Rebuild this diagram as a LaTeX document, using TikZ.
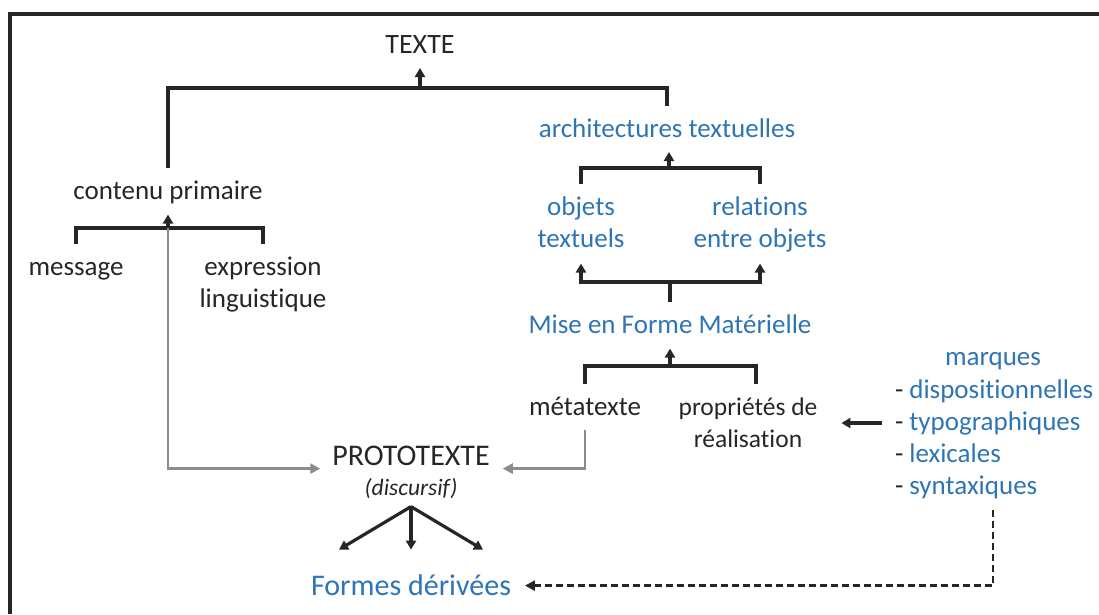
\documentclass[tikz,border=0pt]{standalone}
\usepackage{fontspec}
\setmainfont{Carlito}[Ligatures=NoCommon]
\usetikzlibrary{arrows.meta,calc}
\definecolor{cblue}{RGB}{46,117,182}
\definecolor{cgray}{RGB}{140,140,140}
\definecolor{ctext}{RGB}{38,38,38}
\newcommand{\hst}{\rule[-9.6pt]{0pt}{32pt}}
\begin{document}
\begin{tikzpicture}[x=1pt,y=-1pt,
  lbl/.style={font=\fontsize{27}{32}\selectfont, text=ctext, align=center, inner sep=0pt, outer sep=0pt, execute at begin node=\hst},
  blbl/.style={lbl, text=cblue},
  ln/.style={line width=3.2pt, draw=ctext},
  arr/.style={ln, -{Triangle[width=10pt,length=9pt]}},
  garr/.style={line width=2.8pt, draw=cgray, -{Triangle[width=10pt,length=10pt]}},
  darr/.style={line width=2.6pt, draw=ctext, dash pattern=on 7pt off 4pt, -{Triangle[width=10pt,length=10pt]}},
]
\useasboundingbox (0,0) rectangle (1099,614);
\draw[line width=3.4pt, draw=ctext] (10,614) -- (10,14) -- (1099,14);

% nodes
\node[lbl, anchor=base, font=\fontsize{28}{32}\selectfont] (texte) at (420,53) {TEXTE};
\node[blbl, anchor=base] (arch) at (667,137) {architectures textuelles};
\node[lbl, anchor=base] (cp) at (168,199) {contenu primaire};
\node[blbl, anchor=north] (obj) at (581,192.6) {\hst objets\\textuels\hst};
\node[blbl, anchor=north] (rel) at (760,192.6) {\hst relations\\entre objets\hst};
\node[lbl, anchor=base] (msg) at (76,275) {message};
\node[lbl, anchor=north] (expr) at (263,252.6) {\hst expression\\linguistique\hst};
\node[blbl, anchor=base] (mfm) at (670,333) {Mise en Forme Matérielle};
\node[lbl, anchor=base] (meta) at (585,415) {métatexte};
\node[lbl, anchor=north, font=\fontsize{25.5}{32}\selectfont] (prop) at (748,392.6) {\hst propriétés de\\réalisation\hst};
\node[lbl, anchor=base, font=\fontsize{30}{32}\selectfont] (pt) at (411,465) {PROTOTEXTE};
\node[lbl, anchor=base, font=\fontsize{23.5}{26}\selectfont\itshape] (disc) at (411,495) {(discursif)};
\node[blbl, anchor=base, font=\fontsize{30}{36}\selectfont] (fd) at (411,595) {Formes dérivées};
\node[blbl, anchor=base] (mq) at (993,365) {marques};
\node[blbl, anchor=north west, align=left] (lst) at (895,375.6)
  {\hst{\color{ctext}-} dispositionnelles\\{\color{ctext}-} typographiques\\{\color{ctext}-} lexicales\\{\color{ctext}-} syntaxiques\hst};

% junctions
\coordinate (tj) at (420,88);
\coordinate (aj) at (669,168);
\coordinate (oj) at (670,282);
\coordinate (mj) at (670,366);
\coordinate (cj) at (168,228);
\coordinate (ty) at (0,423);

% top bracket
\draw[ln, shorten <=9pt, shorten >=9pt] (cp) |- (tj) -| (arch);
\draw[arr, shorten >=5.4pt] (tj) -- (texte);
% architecture bracket
\draw[ln, shorten <=9pt, shorten >=9pt] (obj) |- (aj) -| (rel);
\draw[arr, shorten >=5.4pt] (aj) -- (aj |- arch.south);
% objects bracket
\draw[arr, shorten >=7pt] (oj) -| (obj);
\draw[arr, shorten >=7pt] (oj) -| (rel);
\draw[ln, shorten >=9pt] (oj) -- (oj |- mfm.north);
% MFM bracket
\draw[ln, shorten <=9pt, shorten >=9pt] (meta) |- (mj) -| ([xshift=8pt]prop.north);
\draw[arr, shorten >=6pt] (mj) -- (mj |- mfm.south);
% contenu bracket
\draw[ln, shorten <=9pt, shorten >=9pt] (msg) |- (cj) -| (expr);
% gray arrows to PROTOTEXTE
\draw[garr, shorten >=12pt] (cj) |- ([yshift=-10pt]pt.west);
\draw[arr, shorten >=6pt] (cj) -- (cp);
\draw[garr, shorten <=5pt, shorten >=13pt] (meta) |- ([yshift=-10pt]pt.east);
% fork to Formes dérivées
\coordinate (fork) at ($(disc.south)+(0,2)$);
\coordinate (fa) at ($(fd.north)+(-72,-23)$);
\coordinate (fb) at ($(fd.north)+(0,-23)$);
\coordinate (fc) at ($(fd.north)+(72,-23)$);
\draw[arr] (fork) -- (fa);
\draw[arr] (fork) -- (fb);
\draw[arr] (fork) -- (fc);
% marques to propriétés
\draw[arr, shorten <=13pt, shorten >=24pt] (lst.west |- ty) -- (prop.east |- ty);
% dashed to Formes dérivées
\coordinate (ds) at ($(mq.south |- lst.south)+(0,6)$);
\draw[darr, shorten >=14pt] (ds) |- ([yshift=3pt]fd.east);
\end{tikzpicture}
\end{document}
